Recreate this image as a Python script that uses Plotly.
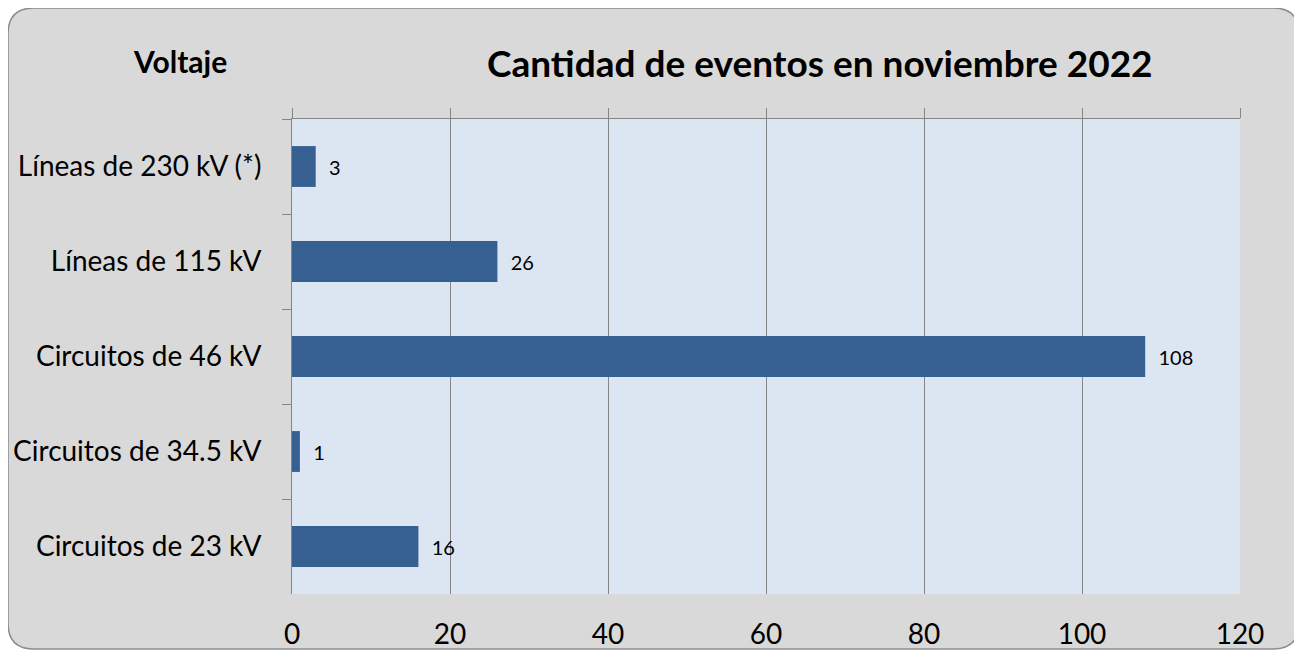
import plotly.graph_objects as go

categories = ["Líneas de 230 kV (*)", "Líneas de 115 kV", "Circuitos de 46 kV",
              "Circuitos de 34.5 kV", "Circuitos de 23 kV"]
values = [3, 26, 108, 1, 16]
x_ticks = [0, 20, 40, 60, 80, 100, 120]
title_text = "Cantidad de eventos en noviembre 2022"
yaxis_title = "Voltaje"

# page body adds an 8px offset; lay out the figure in reference-pixel terms
OFF = 8
W, H = 1302 - OFF, 652 - OFF
L, R, T, B = 292, 1240, 119, 594  # plot area box in reference pixels
pw, ph = R - L, B - T


def px(x):
    return (x - L) / pw


def py(y):
    return (B - y) / ph


def rounded_path(x0, y0, x1, y1, r):
    pts = [
        f"M {px(x0 + r)} {py(y0)}",
        f"L {px(x1 - r)} {py(y0)}",
        f"Q {px(x1)} {py(y0)} {px(x1)} {py(y0 + r)}",
        f"L {px(x1)} {py(y1 - r)}",
        f"Q {px(x1)} {py(y1)} {px(x1 - r)} {py(y1)}",
        f"L {px(x0 + r)} {py(y1)}",
        f"Q {px(x0)} {py(y1)} {px(x0)} {py(y1 - r)}",
        f"L {px(x0)} {py(y0 + r)}",
        f"Q {px(x0)} {py(y0)} {px(x0 + r)} {py(y0)}",
        "Z",
    ]
    return " ".join(pts)


FONT = "Lato, Carlito, Calibri, sans-serif"

fig = go.Figure()
fig.add_trace(go.Bar(
    x=values, y=categories, orientation="h",
    marker=dict(color="#366092", line=dict(width=0)),
    width=0.43,
    text=["  " + str(v) for v in values], textposition="outside",
    textfont=dict(family=FONT, size=20, color="#000000"),
    cliponaxis=False, showlegend=False, hoverinfo="x+y",
))
# invisible helper trace to carry the top tick axis
fig.add_trace(go.Scatter(
    x=values, y=categories, xaxis="x2", mode="markers",
    marker=dict(opacity=0), showlegend=False, hoverinfo="skip",
))

fig.update_layout(
    template="none",
    width=W, height=H,
    margin=dict(l=L - OFF, r=(1302 - R), t=T - OFF, b=(652 - B), pad=0,
                autoexpand=False),
    paper_bgcolor="#ffffff",
    plot_bgcolor="rgba(0,0,0,0)",
    font=dict(family=FONT, color="#000000"),
    xaxis=dict(
        range=[0, 120], tickvals=x_ticks, side="bottom", automargin=False,
        showgrid=True, gridcolor="#868686", gridwidth=1,
        zeroline=False, showline=False, ticks="",
        tickfont=dict(size=28), ticklabelstandoff=21,
    ),
    xaxis2=dict(
        range=[0, 120], tickvals=x_ticks, overlaying="x", side="top",
        automargin=False,
        showgrid=False, zeroline=False, showline=True, linecolor="#868686",
        linewidth=1, ticks="outside", ticklen=10, tickcolor="#868686",
        showticklabels=False,
    ),
    yaxis=dict(
        categoryorder="array", categoryarray=categories, autorange="reversed",
        automargin=False,
        showgrid=False, zeroline=False, showline=True, linecolor="#868686",
        linewidth=1, ticks="outside", ticklen=9, tickcolor="#868686",
        tickson="boundaries", tickfont=dict(size=28), ticklabelstandoff=24,
    ),
    bargap=0.57,
    shapes=[
        dict(type="path", xref="paper", yref="paper", layer="below",
             path=rounded_path(8, 8, 1299, 649, 26),
             fillcolor="#d9d9d9", line=dict(color="#8c8c8c", width=1.5)),
        dict(type="rect", xref="paper", yref="paper", layer="below",
             x0=0, x1=1, y0=0, y1=1, fillcolor="#dce6f2", line=dict(width=0)),
    ],
    annotations=[
        dict(text=f"<b>{title_text}</b>", xref="paper", yref="paper",
             x=px(820), y=py(63), xanchor="center", yanchor="middle",
             showarrow=False, font=dict(size=37, family=FONT)),
        dict(text=f"<b>{yaxis_title}</b>", xref="paper", yref="paper",
             x=px(180), y=py(61), xanchor="center", yanchor="middle",
             showarrow=False, font=dict(size=30, family=FONT)),
    ],
)

fig.write_html("out.html")
